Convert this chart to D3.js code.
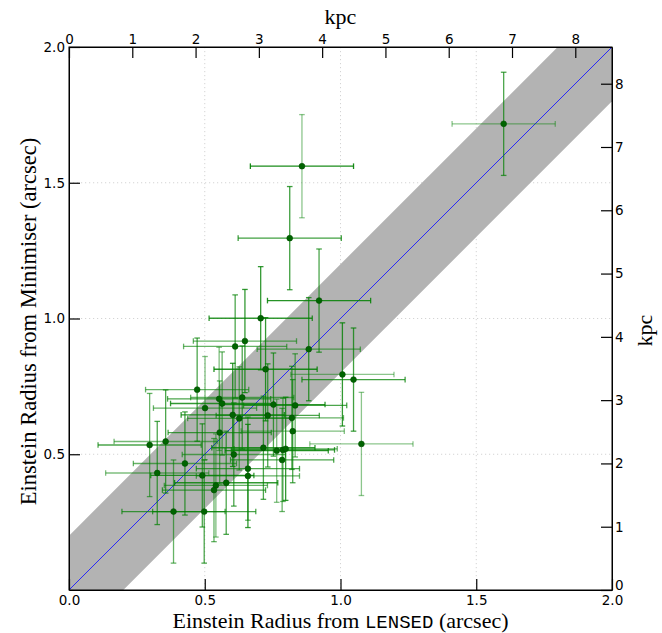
<!DOCTYPE html>
<html><head><meta charset="utf-8">
<script src="https://cdn.jsdelivr.net/npm/d3@7/dist/d3.min.js"></script>
<style>body{margin:0;background:#fff}</style>
</head><body>
<svg id="chart" width="662" height="633"></svg>
<script>
// ---- data (arcsec) ----
const lensedRadius = [1.601,0.858,0.813,0.921,0.883,1.007,1.048,1.077,0.706,0.612,0.648,0.724,0.472,0.553,0.638,0.564,0.501,0.753,0.833,0.603,0.627,0.732,0.821,0.824,0.555,0.297,0.356,0.607,0.716,0.765,0.788,0.798,0.785,0.427,0.325,0.491,0.659,0.659,0.579,0.541,0.534,0.385,0.498];
const minimiserRadius = [1.717,1.561,1.296,1.066,0.887,0.794,0.775,0.538,1.001,0.897,0.917,0.813,0.738,0.704,0.709,0.687,0.670,0.683,0.680,0.645,0.632,0.643,0.634,0.585,0.580,0.534,0.547,0.499,0.524,0.513,0.516,0.520,0.479,0.466,0.431,0.422,0.447,0.420,0.395,0.385,0.368,0.289,0.289];
const lensedErr = [0.19,0.19,0.19,0.19,0.19,0.19,0.19,0.19,0.19,0.19,0.19,0.19,0.19,0.19,0.19,0.19,0.19,0.19,0.19,0.19,0.19,0.19,0.19,0.19,0.19,0.19,0.19,0.19,0.19,0.19,0.19,0.19,0.19,0.19,0.19,0.19,0.19,0.19,0.19,0.19,0.19,0.19,0.19];
const minimiserErr = [0.19,0.19,0.19,0.19,0.19,0.19,0.19,0.19,0.19,0.19,0.19,0.19,0.19,0.19,0.19,0.19,0.19,0.19,0.19,0.19,0.19,0.19,0.19,0.19,0.19,0.19,0.19,0.19,0.19,0.19,0.19,0.19,0.19,0.19,0.19,0.19,0.19,0.19,0.19,0.19,0.19,0.19,0.19];
const lensedWeight = [0.45,0.9,0.75,0.85,0.6,0.45,0.75,0.45,0.8,0.6,0.6,0.85,0.6,0.7,0.6,0.8,0.6,0.8,0.7,0.8,0.6,0.7,0.6,0.5,0.7,0.7,0.55,0.6,0.8,0.8,0.8,0.6,0.7,0.6,0.5,0.8,0.7,0.6,0.8,0.6,0.7,0.7,0.7];
const minimiserWeight = [0.7,0.45,0.75,0.7,0.75,0.8,0.75,0.45,0.8,0.7,0.8,0.8,0.7,0.5,0.7,0.6,0.5,0.7,0.6,0.8,0.6,0.7,0.7,0.7,0.6,0.6,0.7,0.7,0.7,0.5,0.6,0.8,0.6,0.7,0.7,0.7,0.6,0.8,0.7,0.5,0.6,0.6,0.7];
const xTickValues = [0.0, 0.5, 1.0, 1.5, 2.0];
const yTickValues = [0.5, 1.0, 1.5, 2.0];
const gridValues = [0.5, 1.0, 1.5];
const kpcTickValues = [0,1,2,3,4,5,6,7,8];
const kpcPerArcsec = 4.29;
const axisMax = 2.0;
const bandHalfWidth = 0.2;
const oneToOne = [-0.5, 2.5];

// ---- layout ----
const svg = d3.select("#chart");
const m = {left: 69, top: 47};
const W = 543, H = 543;
const x = d3.scaleLinear().domain([0, axisMax]).range([0, W]);
const y = d3.scaleLinear().domain([0, axisMax]).range([H, 0]);
const xk = d3.scaleLinear().domain([0, axisMax*kpcPerArcsec]).range([0, W]);
const yk = d3.scaleLinear().domain([0, axisMax*kpcPerArcsec]).range([H, 0]);
const alpha = d3.scaleLinear().domain([0,1]).range([0,1]);

const g = svg.append("g").attr("transform", `translate(${m.left},${m.top})`);
svg.append("defs").append("clipPath").attr("id","clip")
  .append("rect").attr("width", W).attr("height", H);

const plot = g.append("g").attr("clip-path","url(#clip)");

// grid
plot.selectAll("line.gx").data(gridValues).join("line")
  .attr("x1", d=>x(d)).attr("x2", d=>x(d)).attr("y1",0).attr("y2",H)
  .attr("stroke","#d4d4d4").attr("stroke-dasharray","1.2,2.8").attr("stroke-width",1);
plot.selectAll("line.gy").data(gridValues).join("line")
  .attr("y1", d=>y(d)).attr("y2", d=>y(d)).attr("x1",0).attr("x2",W)
  .attr("stroke","#d4d4d4").attr("stroke-dasharray","1.2,2.8").attr("stroke-width",1);

// band
const area = d3.area().x(d=>x(d)).y0(d=>y(d-bandHalfWidth)).y1(d=>y(d+bandHalfWidth));
plot.append("path").datum(oneToOne).attr("d", area).attr("fill","#b3b3b3");
// 1:1 line
plot.append("path").datum(oneToOne)
  .attr("d", d3.line().x(d=>x(d)).y(d=>y(d)))
  .attr("stroke","#1a1aff").attr("stroke-width",0.9).attr("fill","none");

// error bars
const idx = d3.range(lensedRadius.length);
const cap = 2.8;
const green = "#008000";
const eb = plot.append("g");
idx.forEach(i=>{
  const cx = x(lensedRadius[i]), cy = y(minimiserRadius[i]);
  const x0 = x(lensedRadius[i]-lensedErr[i]), x1 = x(lensedRadius[i]+lensedErr[i]);
  const y0 = y(minimiserRadius[i]-minimiserErr[i]), y1 = y(minimiserRadius[i]+minimiserErr[i]);
  const hx = eb.append("g").attr("stroke", green).attr("stroke-opacity", alpha(lensedWeight[i])).attr("stroke-width",1.3);
  hx.append("line").attr("x1",x0).attr("x2",x1).attr("y1",cy).attr("y2",cy);
  hx.append("line").attr("x1",x0).attr("x2",x0).attr("y1",cy-cap).attr("y2",cy+cap);
  hx.append("line").attr("x1",x1).attr("x2",x1).attr("y1",cy-cap).attr("y2",cy+cap);
  const vy = eb.append("g").attr("stroke", green).attr("stroke-opacity", alpha(minimiserWeight[i])).attr("stroke-width",1.3);
  vy.append("line").attr("x1",cx).attr("x2",cx).attr("y1",y0).attr("y2",y1);
  vy.append("line").attr("x1",cx-cap).attr("x2",cx+cap).attr("y1",y0).attr("y2",y0);
  vy.append("line").attr("x1",cx-cap).attr("x2",cx+cap).attr("y1",y1).attr("y2",y1);
});
plot.selectAll("circle").data(idx).join("circle")
  .attr("cx", i=>x(lensedRadius[i])).attr("cy", i=>y(minimiserRadius[i]))
  .attr("r", 2.9).attr("fill","#006400").attr("stroke","#004d00").attr("stroke-width",0.6);

// axes
const tickFont = (sel)=>sel.selectAll("text").attr("font-family","DejaVu Sans").attr("font-size","13.5px").attr("fill","#000");
const fmt = d3.format(".1f");
const ax = g.append("g").attr("transform",`translate(0,${H})`)
  .call(d3.axisBottom(x).tickValues(xTickValues).tickFormat(fmt).tickSize(-11).tickSizeOuter(0).tickPadding(5));
const ay = g.append("g")
  .call(d3.axisLeft(y).tickValues(yTickValues).tickFormat(fmt).tickSize(-11).tickSizeOuter(0).tickPadding(4));
const at = g.append("g")
  .call(d3.axisTop(xk).tickValues(kpcTickValues).tickFormat(d3.format("d")).tickSize(-11).tickSizeOuter(0).tickPadding(3));
const ar = g.append("g").attr("transform",`translate(${W},0)`)
  .call(d3.axisRight(yk).tickValues(kpcTickValues).tickFormat(d3.format("d")).tickSize(-11).tickSizeOuter(0).tickPadding(3));
[ax,ay,at,ar].forEach(a=>{ tickFont(a); a.selectAll("line").attr("stroke","#000").attr("stroke-width",1.2); a.select(".domain").attr("stroke","#000"); });
// nudge the right-axis "0" so it sits just above the bottom "2.0"
ar.selectAll(".tick text").filter(d=>d===0).attr("dy","-0.05em");

g.append("rect").attr("width",W).attr("height",H).attr("fill","none").attr("stroke","#000").attr("stroke-width",1);

// titles
const serif = "Liberation Serif";
const xl = svg.append("text").attr("x", m.left + W/2).attr("y", 628).attr("text-anchor","middle")
  .attr("font-family", serif).attr("font-size","22px");
xl.append("tspan").text("Einstein Radius from ");
xl.append("tspan").attr("font-family","Liberation Mono").attr("font-size","19px").text("LENSED");
xl.append("tspan").text(" (arcsec)");
svg.append("text").attr("transform",`translate(36,${m.top + H/2 + 3}) rotate(-90)`).attr("text-anchor","middle")
  .attr("font-family", serif).attr("font-size","22.5px").text("Einstein Radius from Minimiser (arcsec)");
svg.append("text").attr("x", m.left + W/2).attr("y", 24).attr("text-anchor","middle")
  .attr("font-family", serif).attr("font-size","22px").text("kpc");
svg.append("text").attr("transform",`translate(652,${m.top + H/2 + 12}) rotate(-90)`).attr("text-anchor","middle")
  .attr("font-family", serif).attr("font-size","22px").text("kpc");
</script>
</body></html>
